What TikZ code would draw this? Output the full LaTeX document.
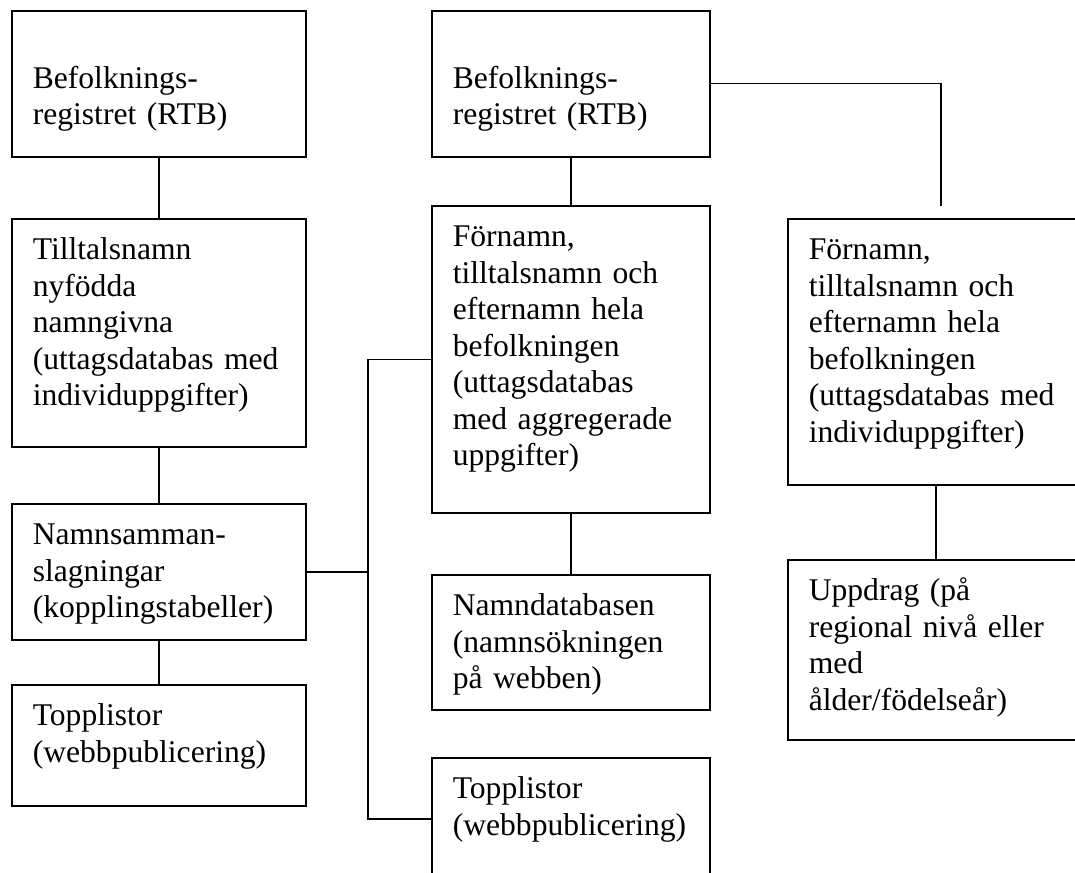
\documentclass[tikz,border=0pt]{standalone}
\usepackage{fontspec}
\setmainfont{Liberation Serif}
\usepackage{tikz}

\begin{document}
\begin{tikzpicture}[x=1pt, y=-1pt,
    box/.style={draw, line width=1.6pt, anchor=north west, inner xsep=21pt, inner ysep=0pt,
        text height=41pt, align=left, font=\fontsize{31.6}{36.5}\selectfont},
    colA/.style={box, text width=252pt},
    colB/.style={box, text width=236pt},
    colC/.style={box, text width=254pt},
    link/.style={draw, line width=1.4pt}
]
    \path[fill=white] (0,0) rectangle (1075,872);
    \useasboundingbox (0,0) rectangle (1075,872);

    % left column
    \node[colA, text depth=105pt] (a1) at (11,10) {\mbox{}\\Befolknings-\\registret (RTB)};
    \node[colA, text depth=187pt] (a2) at (11,218) {Tilltalsnamn\\nyfödda\\namngivna\\(uttagsdatabas med\\individuppgifter)};
    \node[colA, text depth=95pt] (a3) at (11,503) {Namnsamman-\\slagningar\\(kopplingstabeller)};
    \node[colA, text depth=80pt] (a4) at (11,684) {Topplistor\\(webbpublicering)};

    % middle column
    \node[colB, text depth=105pt] (b1) at (431,10) {\mbox{}\\Befolknings-\\registret (RTB)};
    \node[colB, text depth=266pt] (b2) at (431,205) {Förnamn,\\tilltalsnamn och\\efternamn hela\\befolkningen\\(uttagsdatabas\\med aggregerade\\uppgifter)};
    \node[colB, text depth=94pt] (b3) at (431,574) {Namndatabasen\\(namnsökningen\\på webben)};
    \node[colB, text depth=81pt] (b4) at (431,757) {Topplistor\\(webbpublicering)};

    % right column
    \node[colC, text depth=225pt] (c1) at (787,218) {Förnamn,\\tilltalsnamn och\\efternamn hela\\befolkningen\\(uttagsdatabas med\\individuppgifter)};
    \node[colC, text depth=139pt] (c2) at (787,559) {Uppdrag (på\\regional nivå eller\\med\\ålder/födelseår)};

    % connectors
    \coordinate (spine) at (368,0);
    \coordinate (drop) at (941,206);

    \draw[link] (a1) -- (a2);
    \draw[link] (a2) -- (a3);
    \draw[link] (a3) -- (a4);
    \draw[link] (b1) -- (b2);
    \draw[link] (b2) -- (b3);
    \draw[link] (c1) -- (c2);

    \draw[link] (a3.east) -- (a3.east -| spine);
    \draw[link] (b2.west) -- (b2.west -| spine) -- (b4.west -| spine) -- (b4.west);
    \draw[link] (b1.east) -- (b1.east -| drop) -- (drop);
\end{tikzpicture}
\end{document}
